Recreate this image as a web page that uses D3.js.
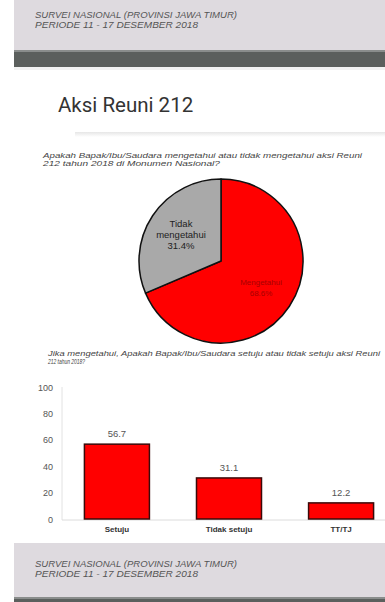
<!DOCTYPE html>
<html>
<head>
<meta charset="utf-8">
<script src="https://cdn.jsdelivr.net/npm/d3@7/dist/d3.min.js"></script>
<style>
  html, body { margin: 0; padding: 0; background: #fff; }
  svg { display: block; font-family: "Liberation Sans", Arial, sans-serif; }
</style>
</head>
<body>
<div id="chart"></div>
<script>
// data
var headerLines = ["SURVEI NASIONAL (PROVINSI JAWA TIMUR)", "PERIODE 11 - 17 DESEMBER 2018"]
var title = "Aksi Reuni 212"
var question1 = ["Apakah Bapak/Ibu/Saudara mengetahui atau tidak mengetahui aksi Reuni", "212 tahun 2018 di Monumen Nasional?"]
var question2 = ["Jika mengetahui, Apakah Bapak/Ibu/Saudara setuju atau tidak setuju aksi Reuni", "212 tahun 2018?"]

var pieLabels = ["Mengetahui", "Tidak mengetahui"]
var pieValues = [68.6, 31.4]

var barCategories = ["Setuju", "Tidak setuju", "TT/TJ"]
var barValues = [56.7, 31.1, 12.2]
var yTicks = [0, 20, 40, 60, 80, 100]

var w = 385, h = 602

var svg = d3.select("#chart")
	.append("svg")
	.attr("width", w)
	.attr("height", h)

// header band
svg.append("rect").attr("x", 14).attr("y", 0).attr("width", w - 14).attr("height", 50).attr("fill", "#dedadf")
svg.append("rect").attr("x", 14).attr("y", 50).attr("width", w - 14).attr("height", 3).attr("fill", "#8a8d8c")
svg.append("rect").attr("x", 14).attr("y", 52).attr("width", w - 14).attr("height", 15).attr("fill", "#5b5f5d")
svg.append("rect").attr("x", 14).attr("y", 67).attr("width", w - 14).attr("height", 3).attr("fill", "#f2f2f2")

var headerWidths = [202, 163]
svg.selectAll(".hdr")
	.data(headerLines)
	.enter().append("text")
	.attr("x", 35)
	.attr("y", function(d, i) { return 18 + i * 10 })
	.attr("textLength", function(d, i) { return headerWidths[i] })
	.attr("lengthAdjust", "spacingAndGlyphs")
	.style("font-size", "9px")
	.style("font-style", "italic")
	.attr("fill", "#555")
	.text(function(d) { return d })

// title card shadow
var shadow = svg.append("defs").append("linearGradient")
	.attr("id", "shadow").attr("x1", 0).attr("x2", 0).attr("y1", 0).attr("y2", 1)
shadow.append("stop").attr("offset", "0%").attr("stop-color", "#e6e6e6")
shadow.append("stop").attr("offset", "100%").attr("stop-color", "#fff")
svg.append("rect").attr("x", 75).attr("y", 132).attr("width", w - 75).attr("height", 5).attr("fill", "url(#shadow)")

svg.append("text")
	.attr("x", 58)
	.attr("y", 112)
	.style("font-family", "Roboto, sans-serif")
	.style("font-size", "20.5px")
	.attr("fill", "#333")
	.text(title)

// question texts
var q1Widths = [319, 177]
svg.selectAll(".q1")
	.data(question1)
	.enter().append("text")
	.attr("x", 43)
	.attr("y", function(d, i) { return 158 + i * 8 })
	.attr("textLength", function(d, i) { return q1Widths[i] })
	.attr("lengthAdjust", "spacingAndGlyphs")
	.style("font-size", "7.5px")
	.style("font-style", "italic")
	.attr("fill", "#444")
	.text(function(d) { return d })

var q2Widths = [332, 37]
svg.selectAll(".q2")
	.data(question2)
	.enter().append("text")
	.attr("x", 48)
	.attr("y", function(d, i) { return 356 + i * 7.5 })
	.attr("textLength", function(d, i) { return q2Widths[i] })
	.attr("lengthAdjust", "spacingAndGlyphs")
	.style("font-size", "7px")
	.style("font-style", "italic")
	.attr("fill", "#444")
	.text(function(d) { return d })

// pie
var pieData = pieLabels.map(function(d, i) { return {label: d, value: pieValues[i]} })
var pieColors = ["#ff0000", "#a9a9a9"]
var r = 82

var pieG = svg.append("g").attr("transform", "translate(221,261)")

var pie = d3.pie().sort(null).value(function(d) { return d.value })
var arc = d3.arc().innerRadius(0).outerRadius(r)
var labelArc = d3.arc().innerRadius(48).outerRadius(48)

pieG.selectAll("path")
	.data(pie(pieData))
	.enter().append("path")
	.attr("d", arc)
	.attr("fill", function(d, i) { return pieColors[i] })
	.attr("stroke", "#111")
	.attr("stroke-width", 1.5)
	.attr("stroke-linejoin", "round")

var pieText = pieG.selectAll(".plabel")
	.data(pie(pieData))
	.enter().append("text")
	.attr("transform", function(d) { var c = labelArc.centroid(d); return "translate(" + c[0] + "," + c[1] + ")" })
	.attr("text-anchor", "middle")
	.style("font-size", function(d, i) { return i == 0 ? "8px" : "9.5px" })
	.attr("fill", function(d, i) { return i == 0 ? "#a80000" : "#222" })

pieText.each(function(d, i) {
	var lines = i == 0 ? [d.data.label, d.data.value + "%"] : ["Tidak", "mengetahui", d.data.value + "%"]
	var t = d3.select(this)
	var off = -(lines.length - 1) / 2 * 11 + 3
	lines.forEach(function(l, j) {
		t.append("tspan").attr("x", 0).attr("y", off + j * 11).text(l)
	})
})

// bar chart
var x = d3.scaleBand()
	.domain(barCategories)
	.range([62, 396])
	.paddingInner(0.42)
	.paddingOuter(0.2)

var y = d3.scaleLinear()
	.domain([0, 100])
	.range([519, 387])

// axis lines
svg.append("line").attr("x1", 62).attr("x2", 62).attr("y1", y(100)).attr("y2", y(0) + 1)
	.attr("stroke", "#e2e2e2").attr("stroke-width", 1)
svg.append("line").attr("x1", 62).attr("x2", w).attr("y1", y(0) + 1).attr("y2", y(0) + 1)
	.attr("stroke", "#dcdcdc").attr("stroke-width", 1)

svg.selectAll(".ytick")
	.data(yTicks)
	.enter().append("text")
	.attr("x", 53)
	.attr("y", function(d) { return y(d) + 3.5 })
	.attr("text-anchor", "end")
	.style("font-size", "9px")
	.attr("fill", "#555")
	.text(function(d) { return d })

svg.selectAll(".bar")
	.data(barValues)
	.enter().append("rect")
	.attr("x", function(d, i) { return x(barCategories[i]) })
	.attr("y", function(d) { return y(d) })
	.attr("width", x.bandwidth())
	.attr("height", function(d) { return y(0) - y(d) })
	.attr("fill", "#ff0000")
	.attr("stroke", "#3a0a0a")
	.attr("stroke-width", 1.5)

svg.selectAll(".val")
	.data(barValues)
	.enter().append("text")
	.attr("x", function(d, i) { return x(barCategories[i]) + x.bandwidth() / 2 })
	.attr("y", function(d) { return y(d) - 7 })
	.attr("text-anchor", "middle")
	.style("font-size", "9.5px")
	.attr("fill", "#555")
	.text(function(d) { return d })

svg.selectAll(".cat")
	.data(barCategories)
	.enter().append("text")
	.attr("x", function(d) { return x(d) + x.bandwidth() / 2 })
	.attr("y", 532)
	.attr("text-anchor", "middle")
	.style("font-size", "8px")
	.style("font-weight", "bold")
	.attr("fill", "#333")
	.text(function(d) { return d })

// footer band
svg.append("rect").attr("x", 14).attr("y", 543).attr("width", w - 14).attr("height", 54).attr("fill", "#dedadf")
svg.append("rect").attr("x", 14).attr("y", 597).attr("width", w - 14).attr("height", 2).attr("fill", "#8a8d8c")
svg.append("rect").attr("x", 14).attr("y", 599).attr("width", w - 14).attr("height", 3).attr("fill", "#5b5f5d")

var footerWidths = [202, 163]
svg.selectAll(".ftr")
	.data(headerLines)
	.enter().append("text")
	.attr("x", 35)
	.attr("y", function(d, i) { return 567 + i * 10 })
	.attr("textLength", function(d, i) { return footerWidths[i] })
	.attr("lengthAdjust", "spacingAndGlyphs")
	.style("font-size", "9px")
	.style("font-style", "italic")
	.attr("fill", "#555")
	.text(function(d) { return d })
</script>
</body>
</html>
